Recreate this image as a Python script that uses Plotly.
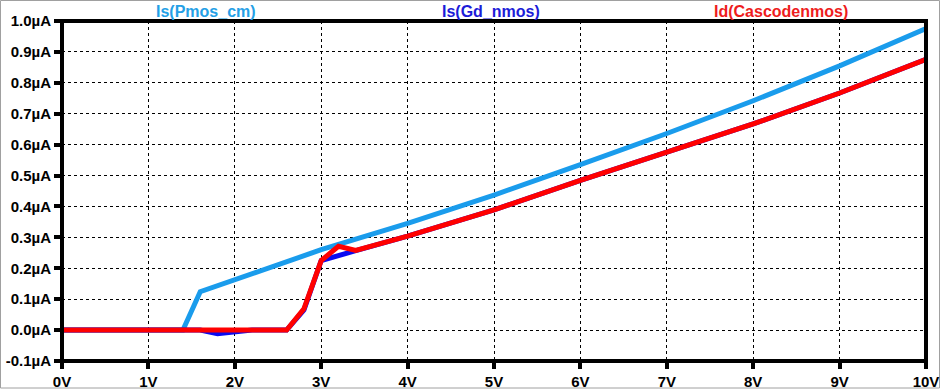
import plotly.graph_objects as go

# Data (V, µA)
pmos_x = [0, 1.0, 1.4, 1.6, 2.0, 3.0, 4.0, 5.0, 6.0, 7.0, 8.0, 9.0, 10.0]
pmos_y = [0, 0, 0, 0.124, 0.163, 0.26, 0.345, 0.437, 0.535, 0.636, 0.742, 0.855, 0.976]

gd_x = [0, 1.0, 1.6, 1.8, 2.0, 2.2, 2.6, 2.8, 3.0, 3.2, 3.4, 4.0, 5.0, 6.0, 7.0, 8.0, 9.0, 10.0]
gd_y = [0, 0, 0, -0.012, -0.005, 0, 0, 0.065, 0.225, 0.243, 0.257, 0.304, 0.389, 0.484, 0.575, 0.667, 0.767, 0.876]

cas_x = [0, 1.0, 2.0, 2.6, 2.8, 3.0, 3.2, 3.4, 4.0, 5.0, 6.0, 7.0, 8.0, 9.0, 10.0]
cas_y = [0, 0, 0, 0, 0.069, 0.225, 0.271, 0.258, 0.304, 0.389, 0.484, 0.575, 0.667, 0.767, 0.876]

x_ticks = [0, 1, 2, 3, 4, 5, 6, 7, 8, 9, 10]
x_tick_labels = ["0V", "1V", "2V", "3V", "4V", "5V", "6V", "7V", "8V", "9V", "10V"]
y_ticks = [-0.1, 0.0, 0.1, 0.2, 0.3, 0.4, 0.5, 0.6, 0.7, 0.8, 0.9, 1.0]
y_tick_labels = ["-0.1µA", "0.0µA", "0.1µA", "0.2µA", "0.3µA", "0.4µA", "0.5µA",
                 "0.6µA", "0.7µA", "0.8µA", "0.9µA", "1.0µA"]

C_PMOS = "#1a9cec"
C_GD = "#0a0af0"
C_CAS = "#ff0000"

fig = go.Figure()
fig.add_trace(go.Scatter(x=pmos_x, y=pmos_y, mode="lines", name="Is(Pmos_cm)",
                         line=dict(color=C_PMOS, width=5)))
fig.add_trace(go.Scatter(x=gd_x, y=gd_y, mode="lines", name="Is(Gd_nmos)",
                         line=dict(color=C_GD, width=5)))
fig.add_trace(go.Scatter(x=cas_x, y=cas_y, mode="lines", name="Id(Cascodenmos)",
                         line=dict(color=C_CAS, width=5)))

L, R, T, B = 62, 15, 21, 30
W, H = 941, 391
pw, ph = W - L - R, H - T - B
FAM = "Liberation Sans, Arial, sans-serif"
tickfont = dict(family=FAM, size=15, color="black")

fig.update_layout(
    width=W, height=H,
    margin=dict(l=L, r=R, t=T, b=B, autoexpand=False),
    paper_bgcolor="white", plot_bgcolor="white",
    showlegend=False,
    font=dict(family=FAM, size=14, color="black"),
    xaxis=dict(range=[0, 10], tickvals=x_ticks,
               ticktext=["<b>%s</b>" % t for t in x_tick_labels],
               showgrid=True, gridcolor="black", gridwidth=1, griddash="3px,3px",
               zeroline=False, showline=False, automargin=False,
               ticks="outside", ticklen=7, tickwidth=4, tickcolor="black",
               tickfont=tickfont, fixedrange=True),
    yaxis=dict(range=[-0.1, 1.0], tickvals=y_ticks,
               ticktext=["<b>%s</b>" % t for t in y_tick_labels],
               showgrid=True, gridcolor="black", gridwidth=1, griddash="3px,3px",
               zeroline=False, showline=False, automargin=False,
               ticks="outside", ticklen=7, tickwidth=4, tickcolor="black",
               tickfont=tickfont, fixedrange=True),
)

# plot frame
fig.add_shape(type="rect", xref="paper", yref="paper", x0=0, x1=1, y0=0, y1=1,
              line=dict(color="black", width=4), layer="above")
# outer window frame
fig.add_shape(type="rect", xref="paper", yref="paper",
              x0=(0.5 - L) / pw, x1=(W - 1.5 - L) / pw,
              y0=((H - B) - 388) / ph, y1=((H - B) - 0.5) / ph,
              line=dict(color="#a0a0a0", width=1), layer="below")

titles = [("Is(Pmos_cm)", 206, "#259fe6"), ("Is(Gd_nmos)", 491, "#1c1cd8"),
          ("Id(Cascodenmos)", 781, "#ee1c1c")]
for txt, px, col in titles:
    fig.add_annotation(text="<b>%s</b>" % txt, xref="paper", yref="paper",
                       x=(px - L) / pw, y=((H - B) - 11) / ph, xanchor="center", yanchor="middle",
                       showarrow=False,
                       font=dict(family=FAM, size=16, color=col))

fig.write_html("out.html", config={"displayModeBar": False},
               post_script="document.body.style.margin='0';document.body.style.overflow='hidden';")
